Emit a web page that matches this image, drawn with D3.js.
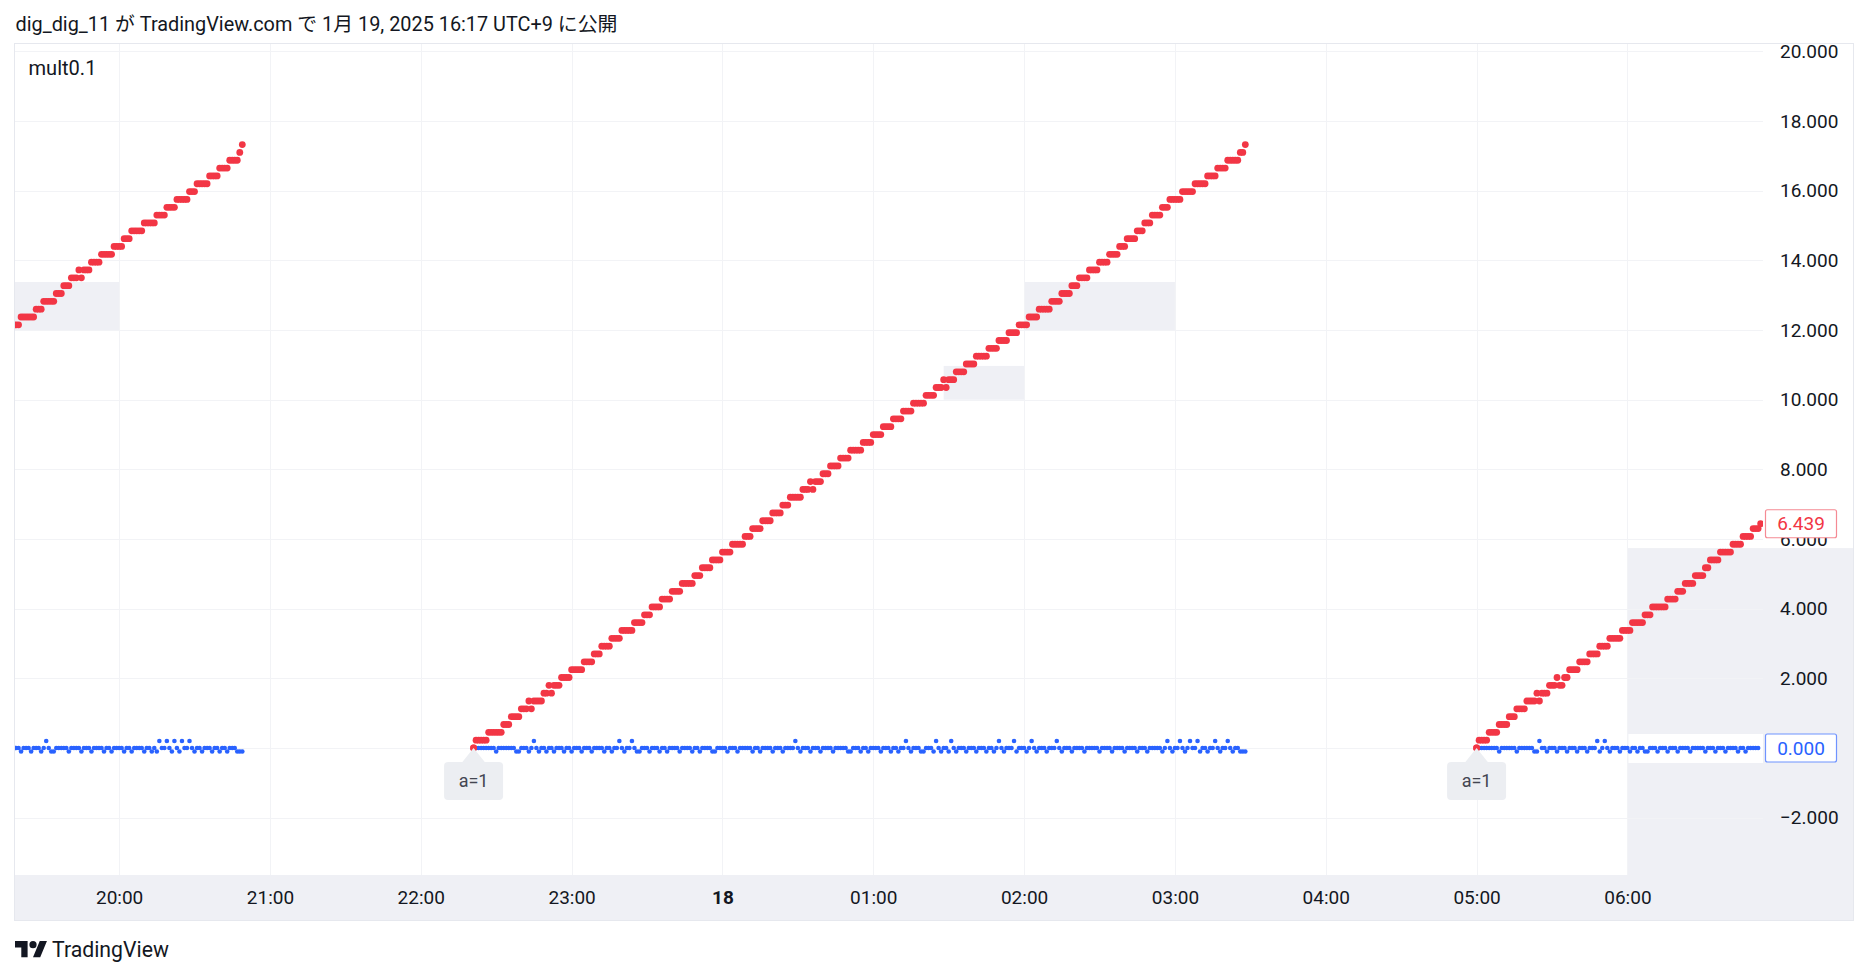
<!DOCTYPE html>
<html><head><meta charset="utf-8">
<script src="https://cdn.jsdelivr.net/npm/d3@7"></script>
<style>html,body{margin:0;padding:0;background:#fff;}svg{display:block;}</style>
</head><body>
<svg id="c" width="1868" height="978"></svg>
<script>
// ---------------- DATA ----------------
const titleText = "dig_dig_11 が TradingView.com で 1月 19, 2025 16:17 UTC+9 に公開";
const indicatorName = "mult0.1";
const footerText = "TradingView";
const startLabel = "a=1";

const yTickValues = [-2, 0, 2, 4, 6, 8, 10, 12, 14, 16, 18, 20];
const xTickTimes = [
  new Date(2025,0,17,20,0), new Date(2025,0,17,21,0), new Date(2025,0,17,22,0), new Date(2025,0,17,23,0),
  new Date(2025,0,18,0,0), new Date(2025,0,18,1,0), new Date(2025,0,18,2,0), new Date(2025,0,18,3,0),
  new Date(2025,0,18,4,0), new Date(2025,0,18,5,0), new Date(2025,0,18,6,0)];
const xTickLabels = ["20:00","21:00","22:00","23:00","18","01:00","02:00","03:00","04:00","05:00","06:00"];

// 1-minute bars; start time of each visible segment
const segStarts = [new Date(2025,0,17,19,19), new Date(2025,0,17,22,21), new Date(2025,0,18,5,0)];
const segShowLabel = [false, true, true];

const redSeg1 = [12.15,12.15,
12.375,12.375,12.375,12.375,12.375,12.375,
12.6,12.6,12.6,
12.825,12.825,12.825,12.825,12.825,
13.05,13.05,13.05,
13.275,13.275,13.275,
13.5,13.5,13.5,13.725,13.5,13.725,13.725,13.725,
13.95,13.95,13.95,13.95,
14.175,14.175,14.175,14.175,14.175,
14.4,14.4,14.4,14.4,
14.625,14.625,14.625,
14.85,14.85,14.85,14.85,14.85,
15.075,15.075,15.075,15.075,15.075,
15.3,15.3,15.3,15.3,
15.525,15.525,15.525,15.525,
15.75,15.75,15.75,15.75,15.75,
15.975,15.975,15.975,
16.2,16.2,16.2,16.2,16.2,
16.425,16.425,16.425,16.425,
16.65,16.65,16.65,16.65,
16.875,16.875,16.875,16.875,
17.1,
17.325];

const redSeg2 = [0,
.225,.225,.225,.225,.225,
.45,.45,.45,.45,.45,.45,
.675,.675,.675,
.9,.9,.9,.9,
1.125,1.125,1.125,1.35,1.125,1.35,1.35,1.35,1.35,
1.575,1.575,1.8,1.575,1.8,1.8,1.8,
2.025,2.025,2.025,2.025,
2.25,2.25,2.25,2.25,2.25,
2.475,2.475,2.475,2.475,
2.7,2.7,2.7,
2.925,2.925,2.925,2.925,
3.15,3.15,3.15,3.15,
3.375,3.375,3.375,3.375,3.375,
3.6,3.6,3.6,3.6,
3.825,3.825,3.825,
4.05,4.05,4.05,4.05,
4.275,4.275,4.275,4.275,
4.5,4.5,4.5,4.5,
4.725,4.725,4.725,4.725,4.725,
4.95,4.95,4.95,
5.175,5.175,5.175,5.175,
5.4,5.4,5.4,5.4,
5.625,5.625,5.625,5.625,
5.85,5.85,5.85,5.85,5.85,
6.075,6.075,6.075,
6.3,6.3,6.3,6.3,
6.525,6.525,6.525,6.525,
6.75,6.75,6.75,6.75,
6.975,6.975,6.975,
7.2,7.2,7.2,7.2,7.2,
7.425,7.425,7.425,7.65,7.425,7.65,7.65,7.65,
7.875,7.875,7.875,
8.1,8.1,8.1,8.1,
8.325,8.325,8.325,8.325,
8.55,8.55,8.55,8.55,8.55,
8.775,8.775,8.775,8.775,
9,9,9,9,
9.225,9.225,9.225,9.225,
9.45,9.45,9.45,9.45,
9.675,9.675,9.675,9.675,
9.9,9.9,9.9,9.9,9.9,
10.125,10.125,10.125,10.125,
10.35,10.35,10.35,10.575,10.35,10.575,10.575,10.575,
10.8,10.8,10.8,10.8,
11.025,11.025,11.025,11.025,
11.25,11.25,11.25,11.25,11.25,
11.475,11.475,11.475,11.475,
11.7,11.7,11.7,11.7,
11.925,11.925,11.925,11.925,
12.15,12.15,12.15,12.15,
12.375,12.375,12.375,12.375,
12.6,12.6,12.6,12.6,12.6,
12.825,12.825,12.825,12.825,
13.05,13.05,13.05,13.05,
13.275,13.275,13.275,
13.5,13.5,13.5,13.5,
13.725,13.725,13.725,13.725,
13.95,13.95,13.95,13.95,
14.175,14.175,14.175,14.175,
14.4,14.4,14.4,
14.625,14.625,14.625,14.625,
14.85,14.85,14.85,
15.075,15.075,15.075,
15.3,15.3,15.3,15.3,
15.525,15.525,15.525,
15.75,15.75,15.75,15.75,15.75,
15.975,15.975,15.975,15.975,15.975,
16.2,16.2,16.2,16.2,16.2,
16.425,16.425,16.425,16.425,
16.65,16.65,16.65,16.65,
16.875,16.875,16.875,16.875,16.875,
17.1,17.1,
17.325];

const redSeg3 = [0,
.225,.225,.225,.225,
.45,.45,.45,.45,
.675,.675,.675,.675,
.9,.9,.9,
1.125,1.125,1.125,1.125,
1.35,1.35,1.35,1.35,1.575,1.35,1.575,1.575,1.575,
1.8,1.8,1.8,2.025,1.8,1.8,2.025,2.025,
2.25,2.25,2.25,2.25,
2.475,2.475,2.475,2.475,
2.7,2.7,2.7,2.7,
2.925,2.925,2.925,2.925,
3.15,3.15,3.15,3.15,3.15,
3.375,3.375,3.375,3.375,
3.6,3.6,3.6,3.6,3.6,
3.825,3.825,3.825,
4.05,4.05,4.05,4.05,4.05,4.05,
4.275,4.275,4.275,4.275,
4.5,4.5,4.5,
4.725,4.725,4.725,4.725,
4.95,4.95,4.95,4.95,
5.175,5.175,
5.4,5.4,5.4,5.4,
5.625,5.625,5.625,5.625,5.625,
5.85,5.85,5.85,5.85,
6.075,6.075,6.075,6.075,
6.3,6.3,6.3,
6.439];

const blueSeg1 = [0,0,-.1,0,0,0,-.1,0,0,0,-.1,0,.2,0,-.1,-.1,0,0,0,0,
0,-.1,0,0,0,0,-.1,0,0,0,-.1,0,0,0,0,-.1,0,0,-.1,0,
0,0,0,-.1,0,0,-.1,0,0,0,0,-.1,0,0,-.1,0,-.1,.2,0,0,
.2,0,-.1,.2,0,-.1,.2,0,0,.2,0,-.1,0,0,-.1,0,0,0,-.1,0,
0,-.1,0,0,-.1,0,0,0,-.1,-.1,-.1];

const blueSeg2 = [0,0,0,0,0,0,0,0,0,-.1,0,0,0,0,0,0,0,-.1,-.1,0,
0,0,-.1,0,.2,0,-.1,0,0,-.1,0,0,-.1,0,0,0,-.1,0,0,-.1,
0,0,0,-.1,0,0,0,-.1,0,0,0,0,-.1,0,0,-.1,0,0,.2,0,
-.1,0,0,.2,0,-.1,-.1,0,0,0,-.1,0,0,0,-.1,0,0,-.1,0,0,
0,0,-.1,0,0,0,0,-.1,0,0,-.1,0,0,0,0,-.1,-.1,0,0,0,
0,-.1,0,0,0,-.1,0,0,0,0,0,-.1,0,0,-.1,0,0,0,0,-.1,
0,0,0,-.1,0,0,0,0,.2,0,-.1,0,0,0,-.1,0,0,0,-.1,0,
0,0,0,-.1,0,0,0,0,0,-.1,-.1,0,0,0,-.1,0,0,-.1,0,0,
0,0,-.1,0,0,0,-.1,0,0,-.1,0,0,.2,0,-.1,0,0,0,-.1,-.1,
0,0,0,-.1,.2,0,-.1,0,0,-.1,.2,0,-.1,0,0,0,-.1,0,0,0,
-.1,0,0,0,-.1,0,0,-.1,0,.2,0,-.1,0,0,0,.2,-.1,0,0,0,
-.1,0,.2,0,-.1,0,0,0,-.1,0,0,0,.2,0,-.1,0,0,0,-.1,0,
0,0,0,-.1,0,0,0,0,0,-.1,0,0,0,0,-.1,0,0,0,0,-.1,
0,0,0,0,-.1,0,0,0,-.1,0,0,0,0,0,-.1,0,.2,0,-.1,0,
0,.2,0,-.1,0,.2,0,0,.2,-.1,0,0,-.1,0,0,.2,0,-.1,0,0,
.2,0,-.1,0,0,-.1,-.1,-.1];

const blueSeg3 = [0,0,0,0,0,0,0,0,0,-.1,0,0,0,0,0,0,-.1,0,0,0,
0,0,0,-.1,-.1,.2,0,0,-.1,0,0,0,-.1,0,0,0,-.1,0,0,0,
-.1,0,0,0,-.1,0,0,0,.2,-.1,0,.2,0,-.1,0,0,0,-.1,0,0,
0,-.1,0,0,-.1,0,0,-.1,-.1,0,0,0,-.1,0,0,0,-.1,0,0,0,
-.1,0,0,0,0,-.1,0,0,0,0,0,-.1,0,0,0,-.1,0,0,0,-.1,
0,0,0,0,-.1,0,0,-.1,0,0,0,0,0];

const redSegs = [redSeg1, redSeg2, redSeg3];
const blueSegs = [blueSeg1, blueSeg2, blueSeg3];

// shaded boxes drawn by the indicator
const boxStart  = [new Date(2025,0,17,19,0), new Date(2025,0,18,1,28), new Date(2025,0,18,2,0)];
const boxEnd    = [new Date(2025,0,17,20,0), new Date(2025,0,18,2,0),  new Date(2025,0,18,3,0)];
const boxBottom = [12.0, 10.0, 12.0];
const boxTop    = [13.38, 10.97, 13.38];
const lastBoxStart = new Date(2025,0,18,6,0);
const lastBoxTop = 5.74;

// ---------------- LAYOUT ----------------
const FONT = "Roboto, 'Noto Sans CJK JP', sans-serif";
const TXT = "#131722";
const RED = "#f23645", BLUE = "#2962ff";
const SHADE = "#eff0f5", GRID = "#f2f3f6", BORDER = "#e6e8ee";
const plot = {l: 15, t: 44, r: 1763, b: 875};
const chartRight = 1853, axisBottom = 920;
const redR = 3.4, blueR = 2.3;

const svg = d3.select("#c");
svg.append("rect").attr("width", 1868).attr("height", 978).attr("fill", "#fff");

const x = d3.scaleTime()
  .domain([new Date(2025,0,17,19,18,35), new Date(2025,0,18,6,53,56)])
  .range([plot.l, plot.r]);
const y = d3.scaleLinear().domain([-3.646, 20.213]).range([plot.b, plot.t]);

svg.append("defs").append("clipPath").attr("id", "pc")
  .append("rect").attr("x", plot.l).attr("y", plot.t)
  .attr("width", plot.r - plot.l).attr("height", plot.b - plot.t);

// time axis band
svg.append("rect").attr("x", plot.l).attr("y", plot.b)
  .attr("width", chartRight - plot.l).attr("height", axisBottom - plot.b).attr("fill", SHADE);

// boxes
const gBox = svg.append("g").attr("clip-path", "url(#pc)");
gBox.selectAll("rect").data(boxStart).join("rect")
  .attr("x", (d, i) => x(d)).attr("width", (d, i) => x(boxEnd[i]) - x(d))
  .attr("y", (d, i) => y(boxTop[i])).attr("height", (d, i) => y(boxBottom[i]) - y(boxTop[i]))
  .attr("fill", SHADE);
// last box continues to the right edge (incl. price scale)
svg.append("rect").attr("x", x(lastBoxStart)).attr("y", y(lastBoxTop))
  .attr("width", chartRight - x(lastBoxStart)).attr("height", axisBottom - y(lastBoxTop))
  .attr("fill", SHADE);

// gridlines
const gGrid = svg.append("g");
gGrid.selectAll("line.h").data(yTickValues).join("line").attr("class", "h")
  .attr("x1", plot.l).attr("x2", plot.r)
  .attr("y1", d => Math.round(y(d)) + 0.5).attr("y2", d => Math.round(y(d)) + 0.5)
  .attr("stroke", GRID).attr("stroke-width", 1);
gGrid.selectAll("line.v").data(xTickTimes).join("line").attr("class", "v")
  .attr("x1", d => Math.round(x(d)) + 0.5).attr("x2", d => Math.round(x(d)) + 0.5)
  .attr("y1", plot.t).attr("y2", plot.b)
  .attr("stroke", GRID).attr("stroke-width", 1);

// white band at the zero price label inside last box
svg.append("rect").attr("x", x(lastBoxStart) + 1).attr("y", y(0) - 14)
  .attr("width", plot.r - x(lastBoxStart) - 1).attr("height", 29).attr("fill", "#fff");

// borders
svg.append("rect").attr("x", plot.l - 0.5).attr("y", plot.t - 0.5)
  .attr("width", chartRight - plot.l + 1).attr("height", axisBottom - plot.t + 1)
  .attr("fill", "none").attr("stroke", BORDER);

// series
const t0 = d => d.getTime();
const gSeries = svg.append("g").attr("clip-path", "url(#pc)");
function pts(arr, si) {
  return arr.map((v, i) => ({t: new Date(t0(segStarts[si]) + i * 60000), v}));
}
blueSegs.forEach((arr, si) => {
  gSeries.append("g").selectAll("circle").data(pts(arr, si)).join("circle")
    .attr("cx", d => x(d.t)).attr("cy", d => y(d.v)).attr("r", blueR).attr("fill", BLUE);
});
redSegs.forEach((arr, si) => {
  gSeries.append("g").selectAll("circle").data(pts(arr, si)).join("circle")
    .attr("cx", d => x(d.t)).attr("cy", d => y(d.v)).attr("r", redR).attr("fill", RED);
});

// "a=1" labels
segStarts.forEach((s, i) => {
  if (!segShowLabel[i]) return;
  const cx = x(s), cy = y(0);
  const g = svg.append("g");
  g.append("path").attr("d", `M${cx},${cy} L${cx - 12},${cy + 15} L${cx + 12},${cy + 15} Z`).attr("fill", "#eceef2");
  g.append("rect").attr("x", cx - 29.5).attr("y", cy + 14).attr("width", 59).attr("height", 38)
    .attr("rx", 4).attr("fill", "#eceef2");
  g.append("text").attr("x", cx).attr("y", cy + 33).attr("dy", "0.35em").attr("text-anchor", "middle")
    .attr("font-family", FONT).attr("font-size", 18).attr("fill", "#434651").text(startLabel);
  gSeries.append("circle").attr("cx", cx).attr("cy", y(blueSegs[i][0])).attr("r", blueR).attr("fill", BLUE);
  gSeries.append("circle").attr("cx", cx).attr("cy", y(redSegs[i][0])).attr("r", redR).attr("fill", RED);
});

// price axis
const yAxis = d3.axisRight(y).tickValues(yTickValues).tickSize(0).tickPadding(0)
  .tickFormat(d3.format(".3f"));
const gy = svg.append("g").attr("transform", "translate(1780,0)").call(yAxis);
gy.select(".domain").remove();
gy.selectAll("text").attr("font-family", FONT).attr("font-size", 19).attr("fill", TXT)
  .attr("text-anchor", "start").text(d => d3.format(".3f")(d).replace("-", "−"));

// time axis
const xAxis = d3.axisBottom(x).tickValues(xTickTimes).tickSize(0).tickPadding(0)
  .tickFormat((d, i) => xTickLabels[i]);
const gx = svg.append("g").attr("transform", `translate(0,${plot.b + 15})`).call(xAxis);
gx.select(".domain").remove();
gx.selectAll("text").attr("font-family", FONT).attr("font-size", 19).attr("fill", TXT)
  .attr("font-weight", (d, i) => xTickLabels[i] === "18" ? "bold" : "normal");

// last-value labels on price scale
const lastVals = [
  {v: redSeg3[redSeg3.length - 1], c: RED, b: "#f58a94"},
  {v: blueSeg3[blueSeg3.length - 1], c: BLUE, b: "#6f93ff"}];
lastVals.forEach(o => {
  const cy = y(o.v);
  svg.append("rect").attr("x", 1765.5).attr("y", cy - 14).attr("width", 71).attr("height", 28)
    .attr("rx", 2).attr("fill", "#fff").attr("stroke", o.b).attr("stroke-width", 1.2);
  svg.append("text").attr("x", 1801).attr("y", cy).attr("dy", "0.35em").attr("text-anchor", "middle")
    .attr("font-family", FONT).attr("font-size", 19).attr("fill", o.c).text(d3.format(".3f")(o.v));
});

// title & legend
function fit(sel, target) {
  const w = sel.node().getComputedTextLength();
  const fs = parseFloat(sel.attr("font-size"));
  if (w > 0) sel.attr("font-size", fs * target / w);
}
const title = svg.append("text").attr("x", 15.5).attr("y", 30.5).attr("font-family", FONT)
  .attr("font-size", 18).attr("fill", TXT).text(titleText);
fit(title, 602);
const leg = svg.append("text").attr("x", 28.5).attr("y", 74.5).attr("font-family", FONT)
  .attr("font-size", 19).attr("fill", TXT).text(indicatorName);
fit(leg, 68);

// footer logo + text
const logo = svg.append("g").attr("transform", "translate(15,937.5) scale(0.9)").attr("fill", TXT);
logo.append("path").attr("d", "M14 22H7V11H0V4h14v18zM28 22h-8l7.5-18h8L28 22z");
logo.append("circle").attr("cx", 20).attr("cy", 8).attr("r", 4);
const ft = svg.append("text").attr("x", 52).attr("y", 956.5).attr("font-family", FONT)
  .attr("font-size", 21).attr("fill", TXT).text(footerText);
fit(ft, 117);
</script>
</body></html>
